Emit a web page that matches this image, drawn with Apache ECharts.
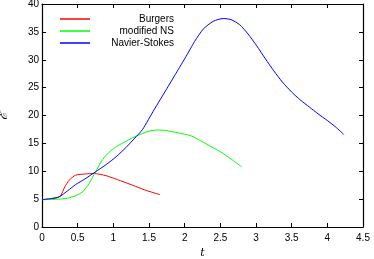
<!DOCTYPE html>
<html>
<head>
<meta charset="utf-8">
<script src="https://cdn.jsdelivr.net/npm/echarts@6/dist/echarts.min.js"></script>
<style>html,body{margin:0;padding:0;background:#fff}#c{width:374px;height:259px}</style>
</head>
<body>
<div id="c"></div>
<script>
const seriesNames = ['Burgers', 'modified NS', 'Navier-Stokes'];
const burgersT = [0, 0.1, 0.2, 0.26, 0.32, 0.38, 0.47, 0.6, 0.73, 0.9, 1.1, 1.27, 1.45, 1.655];
const burgersE = [4.9, 5.0, 5.2, 5.6, 7.2, 8.4, 9.3, 9.5, 9.6, 9.2, 8.3, 7.5, 6.6, 5.8];
const modNST = [0, 0.15, 0.33, 0.45, 0.57, 0.66, 0.75, 0.85, 0.94, 1.04, 1.18, 1.32, 1.5, 1.62, 1.74, 1.9, 2.02, 2.12, 2.3, 2.5, 2.65, 2.8];
const modNSE = [4.9, 4.95, 5.1, 5.5, 6.3, 7.8, 9.9, 12.1, 13.4, 14.4, 15.4, 16.3, 17.2, 17.4, 17.3, 16.9, 16.6, 16.2, 14.9, 13.5, 12.2, 10.8];
const nsT = [0, 0.12, 0.24, 0.36, 0.47, 0.6, 0.75, 0.9, 1.04, 1.18, 1.32, 1.41, 1.57, 1.74, 1.88, 2.02, 2.14, 2.26, 2.4, 2.54, 2.65, 2.77, 2.89, 3.01, 3.13, 3.25, 3.37, 3.5, 3.62, 3.75, 3.87, 4.0, 4.12, 4.23];
const nsE = [4.9, 5.1, 5.4, 6.5, 7.6, 8.6, 9.9, 11.2, 12.6, 14.3, 16.2, 17.5, 21.0, 24.6, 27.6, 30.6, 33.3, 35.5, 36.9, 37.4, 37.2, 36.3, 34.6, 32.5, 30.2, 28.0, 26.0, 24.2, 22.8, 21.5, 20.3, 19.1, 17.9, 16.6];
const colors = ['#ff0000', '#00ff00', '#0000ff'];

const zip = (a, b) => a.map((v, i) => [v, b[i]]);
const font = 'Liberation Sans, Arial, sans-serif';

const xBase = {
  type: 'value', min: 0, max: 4.5, interval: 0.5,
  axisLine: { onZero: false, lineStyle: { color: '#000', width: 1.2 } },
  axisTick: { inside: true, length: 4, lineStyle: { color: '#000' } },
  splitLine: { show: false }
};
const yBase = {
  type: 'value', min: 0, max: 40, interval: 5,
  axisLine: { onZero: false, lineStyle: { color: '#000', width: 1.2 } },
  axisTick: { inside: true, length: 4, lineStyle: { color: '#000' } },
  splitLine: { show: false }
};

const chart = echarts.init(document.getElementById('c'));
chart.setOption({
  animation: false,
  backgroundColor: '#fff',
  grid: { left: 42, right: 11, top: 4, bottom: 32, containLabel: false, outerBoundsMode: 'none' },
  legend: {
    orient: 'vertical', left: 55, top: 8,
    itemWidth: 30, itemHeight: 1.5, itemGap: 0,
    icon: 'rect',
    data: seriesNames,
    formatter: n => '{a|' + n + '}',
    textStyle: {
      fontSize: 10, color: '#000', fontFamily: font, lineHeight: 12,
      rich: { a: { width: 79, align: 'right', fontSize: 10, color: '#000', fontFamily: font, lineHeight: 12 } }
    }
  },
  xAxis: [
    Object.assign({}, xBase, {
      position: 'bottom',
      axisLabel: { fontSize: 10, color: '#000', fontFamily: font, margin: 6 },
      name: 't', nameLocation: 'middle', nameGap: 19,
      nameTextStyle: { fontSize: 11, fontStyle: 'italic', fontFamily: 'DejaVu Serif, serif', color: '#000' }
    }),
    Object.assign({}, xBase, { position: 'top', axisLabel: { show: false } })
  ],
  yAxis: [
    Object.assign({}, yBase, {
      position: 'left',
      axisLabel: { fontSize: 10, color: '#000', fontFamily: font, margin: 3 },
      name: 'ℰ', nameLocation: 'middle', nameGap: 32, nameRotate: 90,
      nameTextStyle: { fontSize: 13, fontStyle: 'italic', fontFamily: 'DejaVu Serif, serif', color: '#000' }
    }),
    Object.assign({}, yBase, { position: 'right', axisLabel: { show: false } })
  ],
  series: [
    { name: seriesNames[0], type: 'line', data: zip(burgersT, burgersE), color: colors[0] },
    { name: seriesNames[1], type: 'line', data: zip(modNST, modNSE), color: colors[1] },
    { name: seriesNames[2], type: 'line', data: zip(nsT, nsE), color: colors[2] }
  ].map(s => Object.assign(s, {
    xAxisIndex: 0, yAxisIndex: 0, showSymbol: false, symbol: 'none', smooth: 0.2,
    lineStyle: { width: 1, color: s.color }, itemStyle: { color: s.color }
  }))
});
</script>
</body>
</html>
